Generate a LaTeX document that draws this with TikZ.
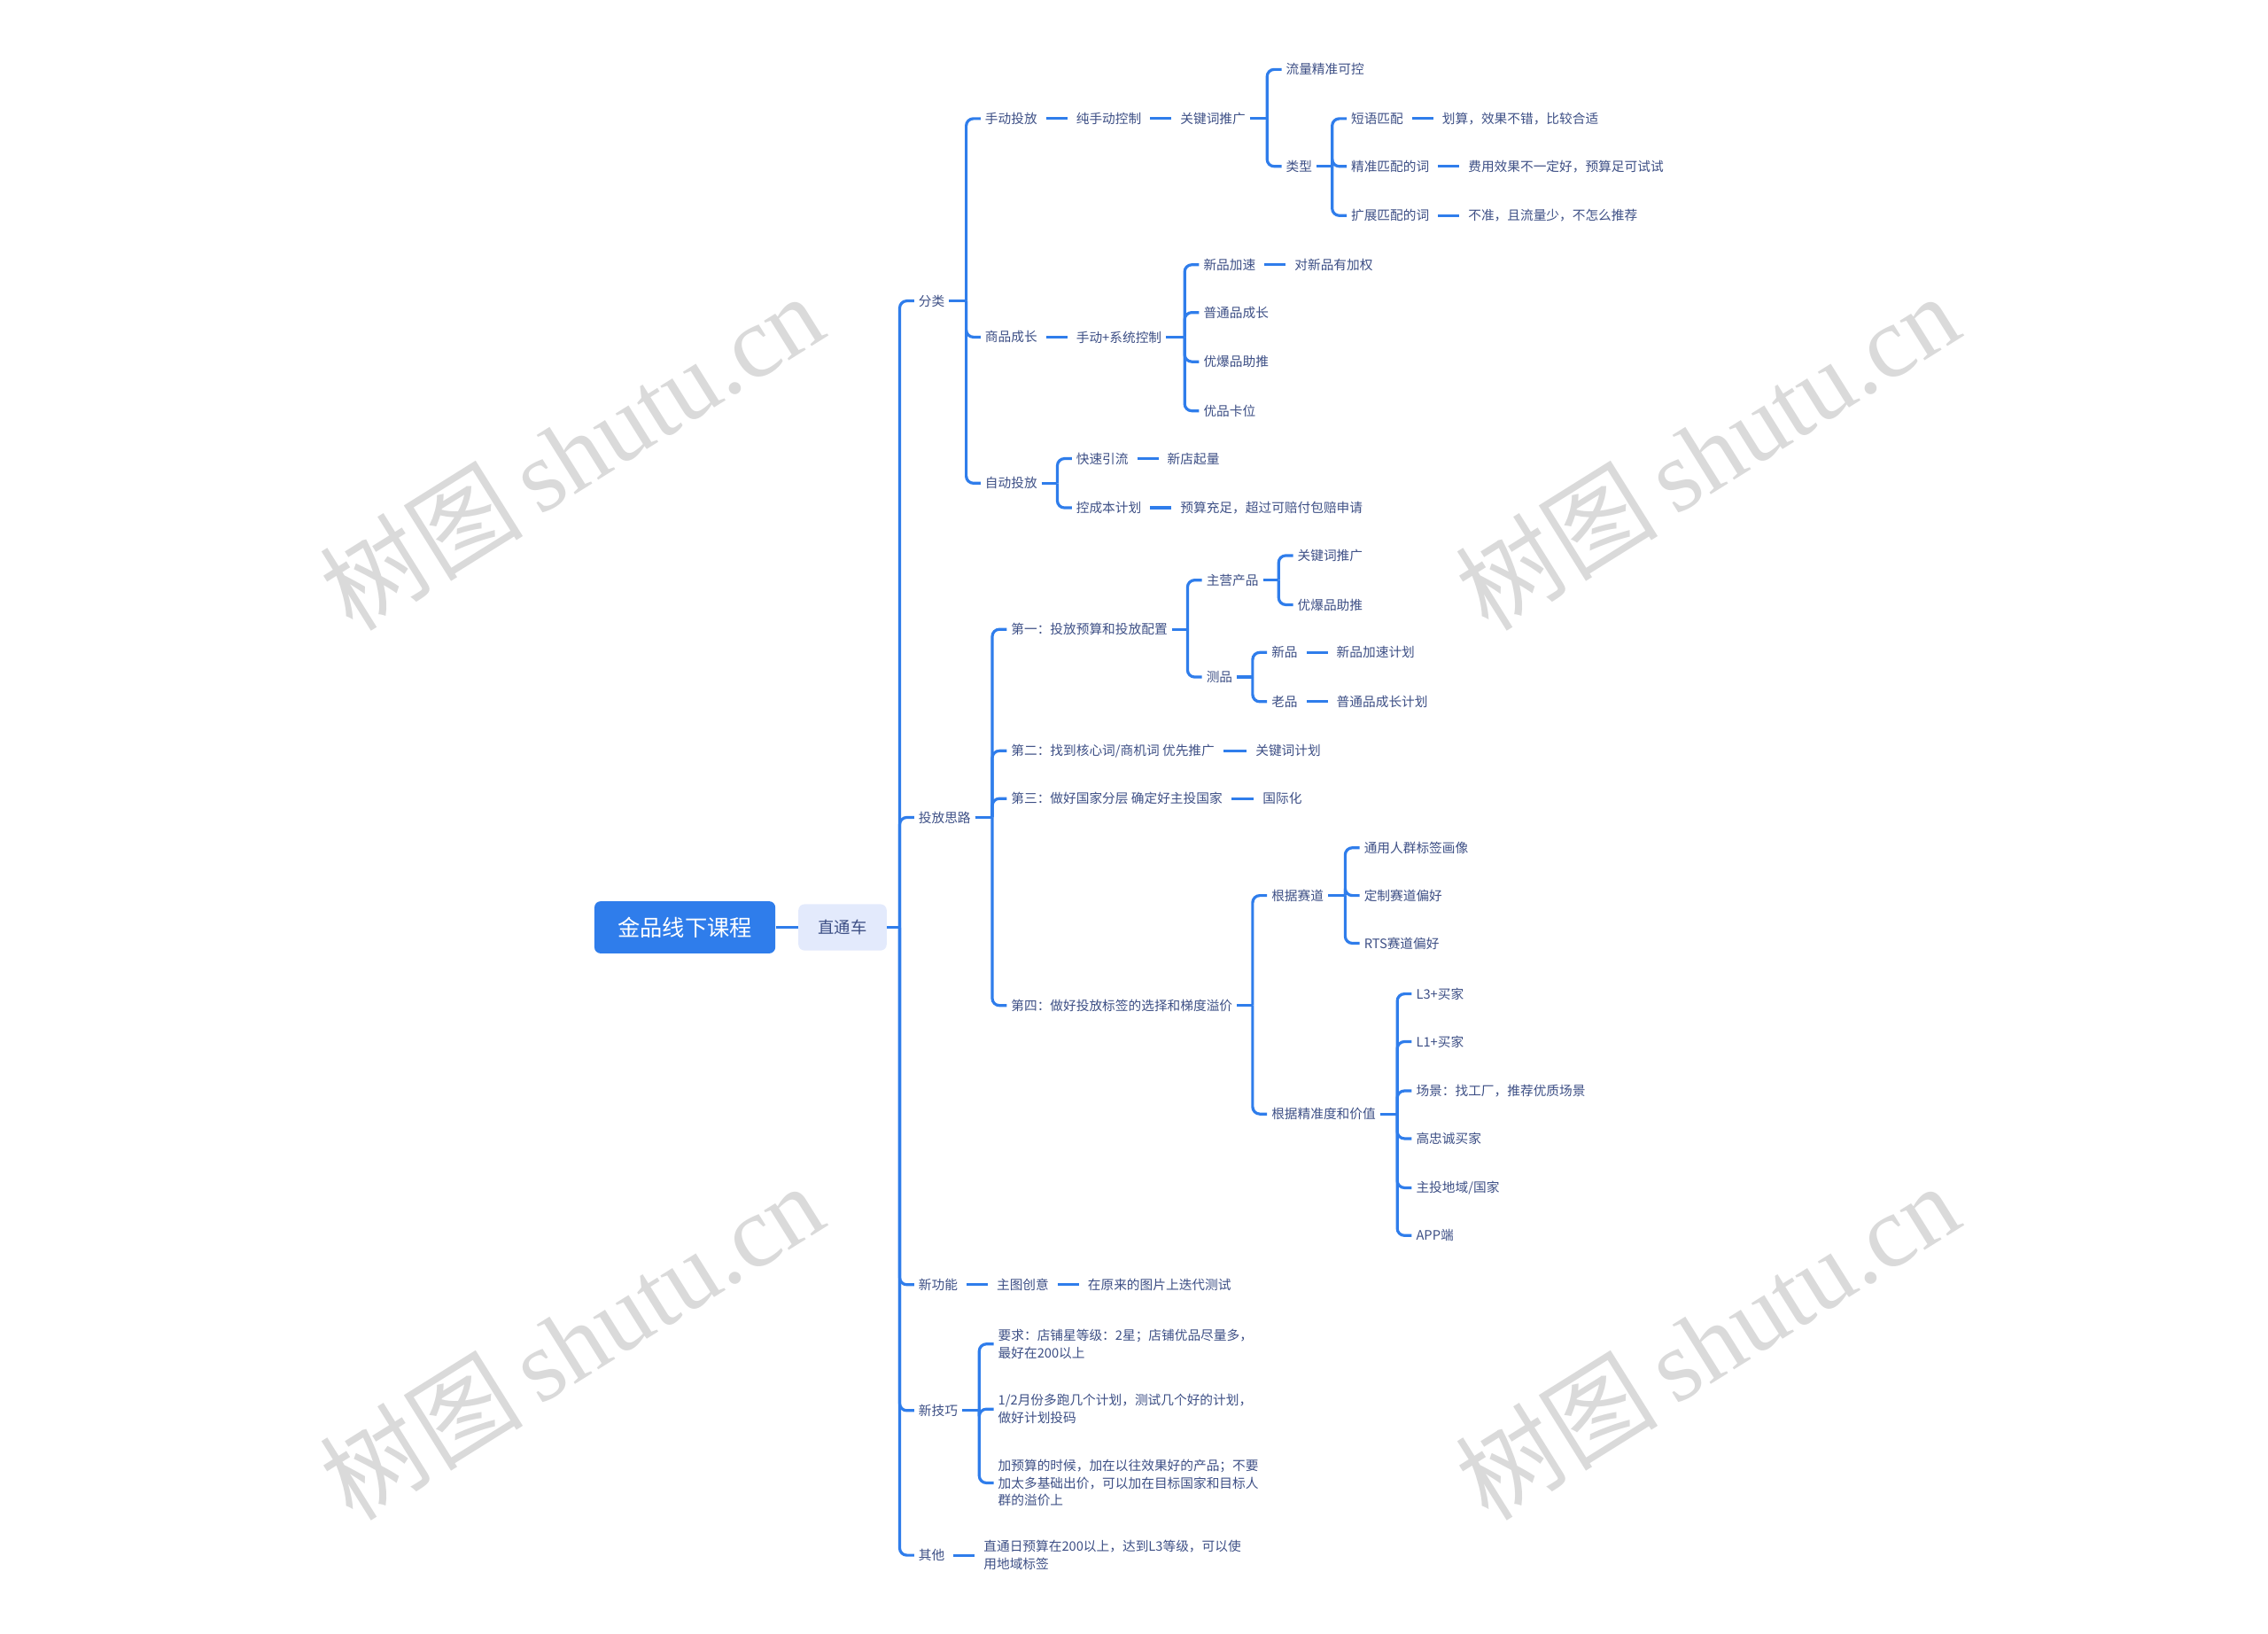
\documentclass[tikz,border=0pt]{standalone}
\usepackage{fontspec}
\setmainfont{Noto Sans CJK SC}
\newfontfamily\wmlatin{Liberation Serif}
\usetikzlibrary{calc}
\definecolor{lineblue}{HTML}{2F7DEB}
\definecolor{txtblue}{HTML}{3D4F85}
\definecolor{subfill}{HTML}{E3EAFC}
\definecolor{wmgray}{HTML}{DADADA}

\begin{document}
\begin{tikzpicture}[x=0.025cm,y=-0.025cm]
  \tikzset{link/.style={draw=lineblue,line width=1.4pt},
    gap/.style={link,shorten <=2.2pt,shorten >=2.2pt},
    item/.style={anchor=west,inner sep=2pt,text=txtblue,align=left,
      font=\fontsize{6.4}{8.6}\selectfont},
    rootbox/.style={fill=lineblue,rounded corners=3pt,minimum width=3.125cm,
      minimum height=0.9cm,text=white,font=\fontsize{11}{13}\selectfont},
    subbox/.style={fill=subfill,rounded corners=3pt,minimum width=1.525cm,
      minimum height=0.8cm,text=txtblue,font=\fontsize{8}{10}\selectfont},
    wmark/.style={text=wmgray,rotate=32,inner sep=0pt,font=\fontsize{50}{56}\selectfont}}
  \useasboundingbox (0,0) rectangle (1568,1129);

  % watermarks
  \foreach \wx/\wy [count=\i] in {395/312,1180/312,395/927,1180/927}
    \node[wmark] (wm\i) at (\wx,\wy) {树图\,{\wmlatin shutu.cn}};

  % root
  \node[rootbox] (root) at (473.5,641) {金品线下课程};
  \node[subbox] (ztc) at (582.5,641) {直通车};

  % level 2
  \node[item] (fl) at (632,208) {分类};
  \node[item] (tf) at (632,565) {投放思路};
  \node[item] (xgn) at (632,888) {新功能};
  \node[item] (xjq) at (632,975) {新技巧};
  \node[item] (qt) at (632,1075) {其他};

  % 分类
  \node[item] (sd) at (678,82) {手动投放};
  \node[item] (sdkz) at (741,82) {纯手动控制};
  \node[item] (gjc) at (813,82) {关键词推广};
  \node[item] (llkk) at (886,48) {流量精准可控};
  \node[item] (lx) at (886,115) {类型};
  \node[item] (dy) at (931,82) {短语匹配};
  \node[item] (jz) at (931,115) {精准匹配的词};
  \node[item] (kz) at (931,149) {扩展匹配的词};
  \node[item] (dyd) at (994,82) {划算，效果不错，比较合适};
  \node[item] (jzd) at (1012,115) {费用效果不一定好，预算足可试试};
  \node[item] (kzd) at (1012,149) {不准，且流量少，不怎么推荐};
  \node[item] (spcz) at (678,233) {商品成长};
  \node[item] (xtkz) at (741,233) {手动+系统控制};
  \node[item] (xpjs) at (829,183) {新品加速};
  \node[item] (jq) at (892,183) {对新品有加权};
  \node[item] (ptcz) at (829,216) {普通品成长};
  \node[item] (ybzt) at (829,250) {优爆品助推};
  \node[item] (ypkw) at (829,284) {优品卡位};
  \node[item] (zd) at (678,334) {自动投放};
  \node[item] (ksyl) at (741,317) {快速引流};
  \node[item] (xdql) at (804,317) {新店起量};
  \node[item] (kcb) at (741,351) {控成本计划};
  \node[item] (yscz) at (813,351) {预算充足，超过可赔付包赔申请};

  % 投放思路
  \node[item] (d1) at (696,435) {第一：投放预算和投放配置};
  \node[item] (zycp) at (831,401) {主营产品};
  \node[item] (gjc2) at (894,384) {关键词推广};
  \node[item] (ybzt2) at (894,418) {优爆品助推};
  \node[item] (cp) at (831,468) {测品};
  \node[item] (xp) at (876,451) {新品};
  \node[item] (xpjh) at (921,451) {新品加速计划};
  \node[item] (lp) at (876,485) {老品};
  \node[item] (ptjh) at (921,485) {普通品成长计划};
  \node[item] (d2) at (696,519) {第二：找到核心词/商机词 优先推广};
  \node[item] (gjcjh) at (865,519) {关键词计划};
  \node[item] (d3) at (696,552) {第三：做好国家分层 确定好主投国家};
  \node[item] (gjh) at (870,552) {国际化};
  \node[item] (d4) at (696,695) {第四：做好投放标签的选择和梯度溢价};
  \node[item] (gjsd) at (876,619) {根据赛道};
  \node[item] (ty) at (940,586) {通用人群标签画像};
  \node[item] (dz) at (940,619) {定制赛道偏好};
  \node[item] (rts) at (940,652) {RTS赛道偏好};
  \node[item] (gjjz) at (876,770) {根据精准度和价值};
  \node[item] (l3) at (976,687) {L3+买家};
  \node[item] (l1) at (976,720) {L1+买家};
  \node[item] (cj) at (976,754) {场景：找工厂，推荐优质场景};
  \node[item] (gzc) at (976,787) {高忠诚买家};
  \node[item] (ztdy) at (976,821) {主投地域/国家};
  \node[item] (app) at (976,854) {APP端};

  % 新功能, 新技巧, 其他
  \node[item] (ztcy) at (686,888) {主图创意};
  \node[item] (ddcs) at (749,888) {在原来的图片上迭代测试};
  \node[item] (yq) at (687,929) {要求：店铺星等级：2星；店铺优品尽量多，\\最好在200以上};
  \node[item] (yf) at (687,974) {1/2月份多跑几个计划，测试几个好的计划，\\做好计划投码};
  \node[item] (jys) at (687,1025) {加预算的时候，加在以往效果好的产品；不要\\加太多基础出价，可以加在目标国家和目标人\\群的溢价上};
  \node[item] (ztys) at (677,1075) {直通日预算在200以上，达到L3等级，可以使\\用地域标签};

  % connectors
  \draw[link] (root.east) -- (ztc.west);
  \foreach \a/\b in {sd/sdkz,sdkz/gjc,dy/dyd,jz/jzd,kz/kzd,spcz/xtkz,
      xpjs/jq,ksyl/xdql,kcb/yscz,xp/xpjh,lp/ptjh,d2/gjcjh,d3/gjh,
      xgn/ztcy,ztcy/ddcs,qt/ztys}
    \draw[gap] (\a.east) -- (\b.west);
  \foreach \p/\cs in {ztc/{fl,tf,xgn,xjq,qt},fl/{sd,spcz,zd},gjc/{llkk,lx},
      lx/{dy,jz,kz},xtkz/{xpjs,ptcz,ybzt,ypkw},zd/{ksyl,kcb},
      tf/{d1,d2,d3,d4},d1/{zycp,cp},zycp/{gjc2,ybzt2},cp/{xp,lp},
      d4/{gjsd,gjjz},gjsd/{ty,dz,rts},gjjz/{l3,l1,cj,gzc,ztdy,app},
      xjq/{yq,yf,jys}}
    \foreach \c in \cs {
      \draw[link] (\p.east) -- ($(\c.west |- \p.east)+(-10,0)$);
      \draw[link,rounded corners=3.5pt] ($(\c.west |- \p.east)+(-10,0)$) |- (\c.west);
    }
\end{tikzpicture}
\end{document}
